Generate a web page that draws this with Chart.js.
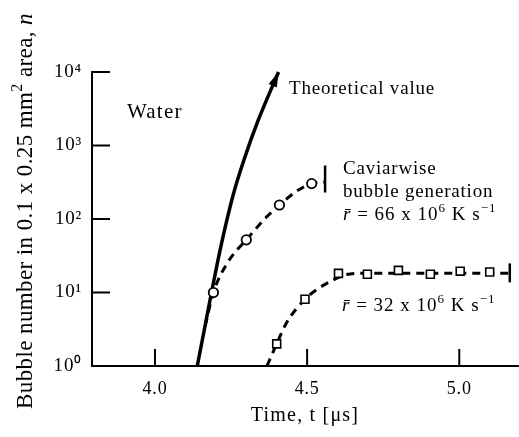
<!DOCTYPE html>
<html><head><meta charset="utf-8">
<script src="https://cdn.jsdelivr.net/npm/chart.js@4/dist/chart.umd.min.js"></script>
<style>html,body{margin:0;padding:0;background:#fff;}</style>
</head><body>
<canvas id="c" width="519" height="437"></canvas>
<script>
// ---- data ----
const theoTime = [4.139, 4.164, 4.185, 4.207, 4.231, 4.258, 4.292, 4.339, 4.406];
const theoN    = [1, 3.42, 9.7, 27.5, 78, 221, 630, 2190, 10000];

const circTime = [4.192, 4.300, 4.409, 4.515];
const circN    = [10, 52, 155, 303];
const fitATime = [4.165, 4.192, 4.240, 4.300, 4.370, 4.409, 4.466, 4.515, 4.559];
const fitAN    = [3.5, 10, 26, 52, 110, 155, 240, 303, 318];

const sqTime = [4.400, 4.493, 4.603, 4.698, 4.800, 4.905, 5.003, 5.100];
const sqN    = [2.0, 8.1, 18.2, 17.7, 20.0, 17.7, 19.5, 19.0];
const fitBTime = [4.368, 4.400, 4.431, 4.493, 4.532, 4.579, 4.625, 4.700, 4.800, 4.900, 5.000, 5.100, 5.166];
const fitBN    = [1, 2.0, 3.8, 8.1, 11, 14.3, 17.4, 18.3, 18.3, 18.3, 18.3, 18.3, 18.3];

const endTime = [4.559, 5.166];
const endN    = [350, 18.5];

const xTickValues = [4.0, 4.5, 5.0];
const xTickLabels = ['4.0', '4.5', '5.0'];
const yTickValues = [1, 10, 100, 1000, 10000];
const yTickLabels = ['10\u2070', '10\u00B9', '10\u00B2', '10\u00B3', '10\u2074'];

const pts = (xs, ys) => xs.map((x, i) => ({x: x, y: ys[i]}));
const FONT = '"Liberation Serif", "Times New Roman", serif';

function richWidth(ctx, parts, size, ls) {
  let w = 0;
  parts.forEach(p => {
    const s = p.sup ? Math.round(size * 0.7) : size;
    ctx.font = (p.it ? 'italic ' : '') + s + 'px ' + FONT;
    ctx.letterSpacing = (ls || 0) + 'px';
    w += ctx.measureText(p.t).width;
  });
  return w;
}
function drawRich(ctx, x, y, parts, size, ls) {
  let cx = x;
  ctx.textAlign = 'left';
  ctx.textBaseline = 'alphabetic';
  parts.forEach(p => {
    const s = p.sup ? Math.round(size * 0.7) : size;
    ctx.font = (p.it ? 'italic ' : '') + s + 'px ' + FONT;
    ctx.letterSpacing = (ls || 0) + 'px';
    const dy = p.sup ? -size * 0.42 : 0;
    ctx.fillText(p.t, cx, y + dy);
    cx += ctx.measureText(p.t).width;
  });
}

const spacing = {
  id: 'spacing',
  beforeDraw(chart) { chart.ctx.letterSpacing = '0.8px'; }
};

const inTicks = {
  id: 'inTicks',
  afterDraw(chart) {
    const {ctx, chartArea: a, scales: {x, y}} = chart;
    ctx.save();
    ctx.strokeStyle = '#000';
    ctx.lineWidth = 2;
    ctx.beginPath();
    y.ticks.forEach(t => { const py = y.getPixelForValue(t.value); ctx.moveTo(a.left, py); ctx.lineTo(a.left + 18, py); });
    x.ticks.forEach(t => { const px = x.getPixelForValue(t.value); ctx.moveTo(px, a.bottom); ctx.lineTo(px, a.bottom - 17); });
    ctx.stroke();
    ctx.restore();
  }
};

const arrow = {
  id: 'arrow',
  afterDatasetsDraw(chart) {
    const meta = chart.getDatasetMeta(3);
    const d = meta.data;
    const last = d[d.length - 1], prev = d[d.length - 2];
    let dx = last.x - (last.cp1x !== undefined ? last.cp1x : prev.x);
    let dy = last.y - (last.cp1y !== undefined ? last.cp1y : prev.y);
    if (!isFinite(dx) || !isFinite(dy) || (dx === 0 && dy === 0)) { dx = last.x - prev.x; dy = last.y - prev.y; }
    const len = Math.hypot(dx, dy); const ux = dx / len, uy = dy / len;
    const L = 15, W = 4.5;
    const bx = last.x - ux * L, by = last.y - uy * L;
    const ctx = chart.ctx;
    ctx.save();
    ctx.fillStyle = '#000';
    ctx.beginPath();
    ctx.moveTo(last.x, last.y);
    ctx.lineTo(bx - uy * W, by + ux * W);
    ctx.lineTo(bx + uy * W, by - ux * W);
    ctx.closePath();
    ctx.fill();
    ctx.restore();
  }
};

const texts = {
  id: 'texts',
  afterDraw(chart) {
    const ctx = chart.ctx;
    ctx.save();
    ctx.fillStyle = '#000';
    drawRich(ctx, 127, 118, [{t: 'Water'}], 21, 1.2);
    drawRich(ctx, 289, 94, [{t: 'Theoretical value'}], 19, 0.8);
    drawRich(ctx, 343, 174, [{t: 'Caviarwise'}], 19, 0.8);
    drawRich(ctx, 343, 197, [{t: 'bubble generation'}], 19, 0.8);
    drawRich(ctx, 343, 220, [{t: 'r\u0304', it: true}, {t: ' = 66 x 10'}, {t: '6', sup: true}, {t: ' K s'}, {t: '\u22121', sup: true}], 19, 1.0);
    drawRich(ctx, 342, 311, [{t: 'r\u0304', it: true}, {t: ' = 32 x 10'}, {t: '6', sup: true}, {t: ' K s'}, {t: '\u22121', sup: true}], 19, 1.0);
    // x title
    const xt = [{t: 'Time, t [\u03BCs]'}];
    const xw = richWidth(ctx, xt, 20, 1.2);
    drawRich(ctx, 305 - xw / 2, 421, xt, 20, 1.2);
    // y title
    const yt = [{t: 'Bubble number in 0.1 x 0.25 mm'}, {t: '2', sup: true}, {t: ' area, '}, {t: 'n', it: true}];
    const yw = richWidth(ctx, yt, 23, 0.4);
    ctx.translate(32, 211);
    ctx.rotate(-Math.PI / 2);
    drawRich(ctx, -yw / 2, 0, yt, 23, 0.4);
    ctx.restore();
  }
};

Chart.defaults.font.family = FONT;
Chart.defaults.color = '#000';

new Chart(document.getElementById('c'), {
  type: 'scatter',
  data: {
    datasets: [
      { data: pts(circTime, circN), pointStyle: 'circle', pointRadius: 4.7, pointBorderWidth: 1.8,
        borderColor: '#000', backgroundColor: '#fff', showLine: false },
      { data: pts(sqTime, sqN), pointStyle: 'rect', pointRadius: 5.6, pointBorderWidth: 1.6,
        borderColor: '#000', backgroundColor: '#fff', showLine: false },
      { data: pts(endTime, endN), pointStyle: 'line', rotation: 90, pointRadius: [13.5, 9.5], pointBorderWidth: 2.5,
        borderColor: '#000', backgroundColor: '#000', showLine: false },
      { data: pts(theoTime, theoN), showLine: true, borderColor: '#000', borderWidth: 3.5, pointRadius: 0,
        cubicInterpolationMode: 'monotone', clip: false },
      { data: pts(fitATime, fitAN), showLine: true, borderColor: '#000', borderWidth: 3, borderDash: [8, 6],
        pointRadius: 0, cubicInterpolationMode: 'monotone' },
      { data: pts(fitBTime, fitBN), showLine: true, borderColor: '#000', borderWidth: 3, borderDash: [8, 6],
        pointRadius: 0, cubicInterpolationMode: 'monotone' }
    ]
  },
  options: {
    responsive: false,
    devicePixelRatio: 1,
    animation: false,
    events: [],
    layout: { autoPadding: false, padding: { top: 72, right: 1, left: 0, bottom: 0 } },
    plugins: { legend: { display: false }, tooltip: { enabled: false }, title: { display: false } },
    scales: {
      x: {
        type: 'linear', position: 'bottom', min: 3.793, max: 5.193,
        afterFit(s) { s.height = 71; s.paddingLeft = 0; s.paddingRight = 0; },
        afterBuildTicks(s) { s.ticks = xTickValues.map(v => ({value: v})); },
        ticks: { callback: (v, i) => xTickLabels[i], font: { size: 18 }, color: '#000', padding: 12,
                 maxRotation: 0, autoSkip: false },
        grid: { display: true, drawOnChartArea: false, drawTicks: false, color: 'rgba(0,0,0,0)' },
        border: { display: true, color: '#000', width: 2 }
      },
      y: {
        type: 'logarithmic', min: 1, max: 10000,
        afterFit(s) { s.width = 92; s.paddingTop = 0; s.paddingBottom = 0; },
        afterBuildTicks(s) { s.ticks = yTickValues.map(v => ({value: v})); },
        ticks: { callback: (v, i) => yTickLabels[i], font: { size: 19 }, color: '#000', padding: 10, autoSkip: false },
        grid: { display: true, drawOnChartArea: false, drawTicks: false, color: 'rgba(0,0,0,0)' },
        border: { display: true, color: '#000', width: 2 }
      }
    }
  },
  plugins: [spacing, inTicks, arrow, texts]
});
</script>
</body></html>
